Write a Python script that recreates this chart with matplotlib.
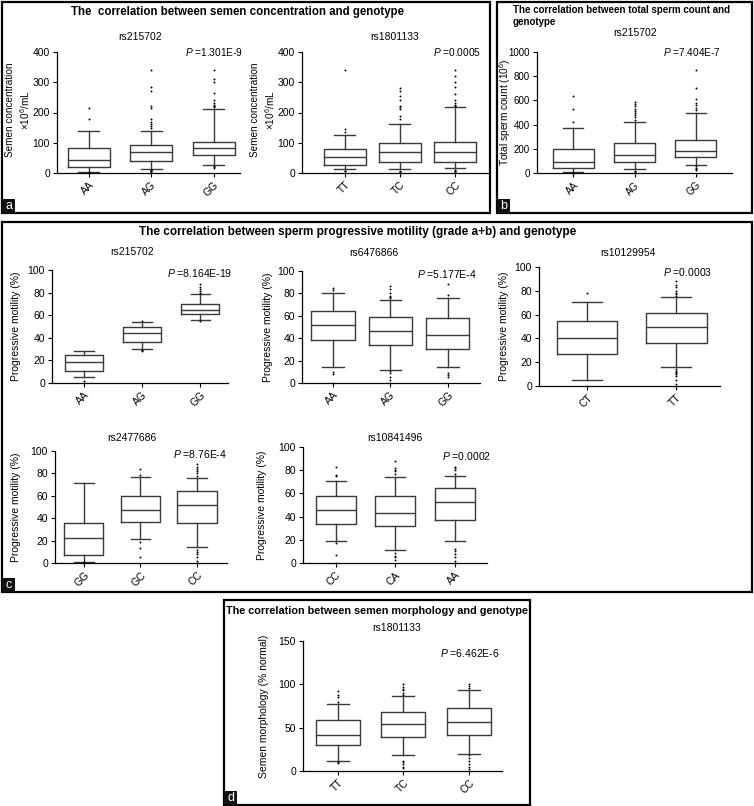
import matplotlib
matplotlib.use("Agg")
import matplotlib.pyplot as plt
from matplotlib.patches import Rectangle

plt.rcParams['font.family'] = ['Liberation Sans', 'DejaVu Sans']
plt.rcParams['mathtext.fontset'] = 'custom'
plt.rcParams['mathtext.rm'] = 'Liberation Sans'
plt.rcParams['mathtext.it'] = 'Liberation Sans:italic'

# ---- data (whislo, q1, median, q3, whishi) and outliers ----
conc_rs215702_geno = ['AA', 'AG', 'GG']
conc_rs215702_box = [[2, 20, 43, 84, 140], [13, 40, 70, 91, 139], [25, 60, 82, 103, 212]]
conc_rs215702_out = [[0, 1, 2, 180, 215],
                     [3, 5, 7, 9, 10, 150, 155, 162, 170, 178, 215, 222, 270, 285, 340],
                     [15, 20, 22, 218, 220, 222, 225, 232, 240, 265, 300, 310, 340]]

conc_rs1801133_geno = ['TT', 'TC', 'CC']
conc_rs1801133_box = [[14, 25, 52, 78, 124], [12, 37, 70, 100, 163], [15, 38, 70, 103, 218]]
conc_rs1801133_out = [[5, 8, 135, 145, 340],
                      [2, 4, 6, 180, 188, 212, 218, 222, 240, 255, 270, 282],
                      [3, 5, 8, 10, 220, 222, 224, 232, 240, 262, 285, 300, 320, 340]]

count_rs215702_geno = ['AA', 'AG', 'GG']
count_rs215702_box = [[5, 40, 95, 200, 375], [30, 88, 145, 245, 425], [65, 135, 180, 270, 500]]
count_rs215702_out = [[0, 2, 425, 530, 640],
                      [8, 12, 15, 440, 460, 480, 500, 515, 530, 550, 570, 590],
                      [25, 35, 45, 55, 520, 540, 560, 580, 610, 700, 850]]

mot_rs215702_geno = ['AA', 'AG', 'GG']
mot_rs215702_box = [[5, 11, 19, 25, 28], [30, 36, 44, 50, 54], [56, 61, 65, 70, 79]]
mot_rs215702_out = [[0, 2], [28.5, 29, 29.5, 55], [55, 80, 81, 83, 85, 88]]

mot_rs6476866_geno = ['AA', 'AG', 'GG']
mot_rs6476866_box = [[14, 38, 52, 64, 80], [12, 34, 46, 59, 74], [14, 30, 43, 58, 76]]
mot_rs6476866_out = [[0, 8, 10, 83, 85],
                     [0, 3, 5, 9, 11, 76, 77, 78, 80, 84, 87],
                     [5, 7, 9, 79, 88]]

mot_rs10129954_geno = ['CT', 'TT']
mot_rs10129954_box = [[5, 27, 40, 55, 71], [16, 36, 50, 61, 75]]
mot_rs10129954_out = [[0, 78],
                      [0, 2, 5, 8, 10, 11, 12, 13, 14, 76, 77, 78, 80, 83, 85, 88]]

mot_rs2477686_geno = ['GG', 'GC', 'CC']
mot_rs2477686_box = [[1, 7, 22, 36, 71], [21, 37, 47, 60, 77], [14, 36, 52, 64, 76]]
mot_rs2477686_out = [[0, 0.5], [5, 13, 19, 79, 84],
                     [0, 2, 5, 8, 10, 12, 78, 80, 82, 84, 86, 88]]

mot_rs10841496_geno = ['CC', 'CA', 'AA']
mot_rs10841496_box = [[19, 34, 46, 58, 71], [11, 32, 43, 58, 74], [19, 37, 53, 65, 75]]
mot_rs10841496_out = [[0, 7, 17, 75, 76, 83],
                      [3, 5, 6, 9, 77, 79, 80, 82, 88],
                      [0, 2, 5, 8, 10, 12, 77, 80, 82, 83]]

morph_rs1801133_geno = ['TT', 'TC', 'CC']
morph_rs1801133_box = [[12, 30, 42, 59, 77], [18, 39, 54, 68, 87], [20, 41, 57, 73, 94]]
morph_rs1801133_out = [[9, 10, 80, 85, 88, 92],
                       [3, 5, 8, 10, 12, 88, 90, 93, 95, 97, 100],
                       [2, 5, 8, 12, 15, 18, 96, 98, 100]]

W, H = 754, 806
fig = plt.figure(figsize=(W / 100, H / 100), dpi=100)


def px_axes(l, t, r, b):
    return fig.add_axes([l / W, 1 - b / H, (r - l) / W, (b - t) / H])


def ftext(x, y, s, **kw):
    return fig.text(x / W, 1 - y / H, s, **kw)


def frame(l, t, r, b, letter):
    fig.patches.append(Rectangle((l / W, 1 - b / H), (r - l) / W, (b - t) / H,
                                 transform=fig.transFigure, fill=False, lw=1.6, ec='black'))
    fig.patches.append(Rectangle((l / W, 1 - b / H), 13 / W, 14 / H,
                                 transform=fig.transFigure, fc='#111111', ec='none'))
    ftext(l + 6.5, b - 7, letter, color='white', fontsize=9, ha='center', va='center')


def boxplot(ax, genos, box, out, ymax, ystep, xlim, width, fs):
    stats = []
    for g, (lo, q1, med, q3, hi), fl in zip(genos, box, out):
        stats.append(dict(label=g, whislo=lo, q1=q1, med=med, q3=q3, whishi=hi, fliers=fl))
    col = '#3a3a3a'
    pos = list(range(1, len(genos) + 1))
    res = ax.bxp(stats, positions=pos, widths=width, capwidths=width * 0.5,
                 boxprops=dict(color=col, lw=1), medianprops=dict(color=col, lw=1),
                 whiskerprops=dict(color=col, lw=1), capprops=dict(color=col, lw=1),
                 flierprops=dict(marker='o', ms=1.4, mfc='black', mec='none'))
    for ln in res['fliers']:
        ln.set_clip_on(False)
    ax.set_xlim(*xlim)
    ax.set_ylim(0, ymax)
    ax.set_yticks(range(0, ymax + 1, ystep))
    ax.set_xticks(pos, genos, rotation=45, ha='right', rotation_mode='anchor')
    ax.spines[['top', 'right']].set_visible(False)
    for s in ('left', 'bottom'):
        ax.spines[s].set_linewidth(0.9)
    ax.tick_params(direction='out', length=3, width=0.8, labelsize=fs, pad=2)
    ax.patch.set_alpha(0)


# ---- panel frames ----
frame(2, 2, 490, 213, 'a')
frame(497, 2, 752, 213, 'b')
frame(2, 222, 752, 592, 'c')
frame(224, 600, 530, 805, 'd')

# ---- panel a ----
ftext(237, 12, 'The  correlation between semen concentration and genotype',
      fontsize=8.3, fontweight='bold', ha='center', va='center')

ax = px_axes(57, 52, 240, 173)
boxplot(ax, conc_rs215702_geno, conc_rs215702_box, conc_rs215702_out,
        400, 100, (0.49, 3.42), 0.67, 7.5)
ftext(140, 37, 'rs215702', fontsize=7.5, ha='center', va='center')
ftext(185, 52, r'$\it{P}$ =1.301E-9', fontsize=7.3, ha='left', va='center')
ftext(10, 110, 'Semen concentration', fontsize=7.2, rotation=90, ha='center', va='center')
ftext(25, 110, '×10$^{6}$/mL', fontsize=7.2, rotation=90, ha='center', va='center')

ax = px_axes(302, 52, 488, 173)
boxplot(ax, conc_rs1801133_geno, conc_rs1801133_box, conc_rs1801133_out,
        400, 100, (0.22, 3.6), 0.76, 7.5)
ftext(395, 37, 'rs1801133', fontsize=7.5, ha='center', va='center')
ftext(433, 52, r'$\it{P}$ =0.0005', fontsize=7.3, ha='left', va='center')
ftext(255, 110, 'Semen concentration', fontsize=7.2, rotation=90, ha='center', va='center')
ftext(270, 110, '×10$^{6}$/mL', fontsize=7.2, rotation=90, ha='center', va='center')

# ---- panel b ----
ftext(513, 10, 'The correlation between total sperm count and',
      fontsize=7, fontweight='bold', ha='left', va='center')
ftext(513, 22, 'genotype', fontsize=7, fontweight='bold', ha='left', va='center')
ax = px_axes(537, 52, 732, 173)
boxplot(ax, count_rs215702_geno, count_rs215702_box, count_rs215702_out,
        1000, 200, (0.41, 3.59), 0.67, 7)
ftext(635, 33, 'rs215702', fontsize=7.5, ha='center', va='center')
ftext(663, 52, r'$\it{P}$ =7.404E-7', fontsize=7.3, ha='left', va='center')
ftext(505, 112, 'Total sperm count (10$^{6}$)', fontsize=7.3,
      rotation=90, ha='center', va='center')

# ---- panel c ----
ftext(358, 232, 'The correlation between sperm progressive motility (grade a+b) and genotype',
      fontsize=8.5, fontweight='bold', ha='center', va='center')

c_axes = [
    ((52, 270, 228, 383), mot_rs215702_geno, mot_rs215702_box, mot_rs215702_out,
     (0.45, 3.48), 0.66, 'rs215702', (132, 252), '=8.164E-19', (167, 273), 16),
    ((302, 271, 480, 383), mot_rs6476866_geno, mot_rs6476866_box, mot_rs6476866_out,
     (0.46, 3.56), 0.75, 'rs6476866', (374, 253), '=5.177E-4', (417, 274), 268),
    ((539, 267, 720, 386), mot_rs10129954_geno, mot_rs10129954_box, mot_rs10129954_out,
     (0.46, 2.49), 0.68, 'rs10129954', (628, 253), '=0.0003', (663, 272), 504),
    ((55, 451, 227, 563), mot_rs2477686_geno, mot_rs2477686_box, mot_rs2477686_out,
     (0.49, 3.53), 0.69, 'rs2477686', (132, 438), '=8.76E-4', (173, 454), 16),
    ((303, 447, 487, 563), mot_rs10841496_geno, mot_rs10841496_box, mot_rs10841496_out,
     (0.45, 3.54), 0.67, 'rs10841496', (395, 438), '=0.0002', (442, 456), 262),
]
for rect, g, bx, out, xl, wd, name, npos, ptxt, ppos, ylx in c_axes:
    ax = px_axes(*rect)
    boxplot(ax, g, bx, out, 100, 20, xl, wd, 7.5)
    ftext(npos[0], npos[1], name, fontsize=7.5, ha='center', va='center')
    ftext(ppos[0], ppos[1], r'$\it{P}$ ' + ptxt, fontsize=7.5, ha='left', va='center')
    ftext(ylx, (rect[1] + rect[3]) / 2, 'Progressive motility (%)', fontsize=7.5,
          rotation=90, ha='center', va='center')

# ---- panel d ----
ftext(377, 611, 'The correlation between semen morphology and genotype',
      fontsize=7.8, fontweight='bold', ha='center', va='center')
ax = px_axes(303, 641, 502, 771)
boxplot(ax, morph_rs1801133_geno, morph_rs1801133_box, morph_rs1801133_out,
        150, 50, (0.47, 3.5), 0.67, 7.5)
ftext(397, 628, 'rs1801133', fontsize=7.5, ha='center', va='center')
ftext(440, 653, r'$\it{P}$ =6.462E-6', fontsize=7.5, ha='left', va='center')
ftext(264, 706, 'Semen morphology (% normal)', fontsize=7.5,
      rotation=90, ha='center', va='center')

fig.savefig('out.png', dpi=100, facecolor='white')
